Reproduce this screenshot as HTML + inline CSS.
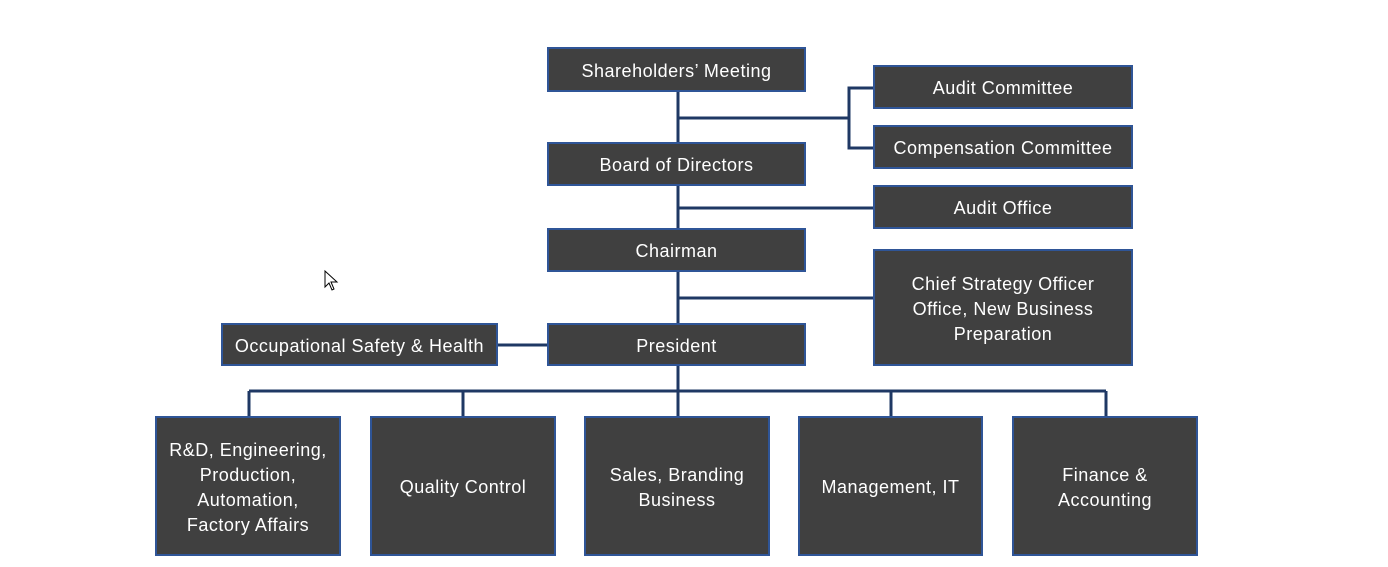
<!DOCTYPE html>
<html><head><meta charset="utf-8"><style>
body{margin:0;width:1388px;height:567px;background:#fff;position:relative;overflow:hidden;font-family:"Liberation Sans",sans-serif}
.b{position:absolute;box-sizing:border-box;background:#404040;border:2px solid #2f5597;color:#fff;font-size:18px;letter-spacing:0.5px;display:flex;align-items:center;justify-content:center;text-align:center;line-height:25px;padding-top:3px}
svg{position:absolute;left:0;top:0}
</style></head><body>
<svg width="1388" height="567">
<g stroke="#1f3864" stroke-width="3" fill="none">
<line x1="678" y1="92" x2="678" y2="323"/>
<line x1="678" y1="118" x2="849" y2="118"/>
<polyline points="873,88 849,88 849,148 873,148"/>
<line x1="678" y1="208" x2="873" y2="208"/>
<line x1="678" y1="298" x2="873" y2="298"/>
<line x1="498" y1="345" x2="547" y2="345"/>
<line x1="678" y1="366" x2="678" y2="416"/>
<line x1="249" y1="391" x2="1106" y2="391"/>
<line x1="249" y1="391" x2="249" y2="416"/>
<line x1="463" y1="391" x2="463" y2="416"/>
<line x1="891" y1="391" x2="891" y2="416"/>
<line x1="1106" y1="391" x2="1106" y2="416"/>
</g>
<path d="M325,271 L325,287 L329,283 L332,290 L334,289 L331,282 L337,282 Z" fill="#fff" stroke="#000" stroke-width="1"/>
</svg>
<div class="b" style="left:547px;top:47px;width:259px;height:45px">Shareholders’ Meeting</div>
<div class="b" style="left:873px;top:65px;width:260px;height:44px">Audit Committee</div>
<div class="b" style="left:873px;top:125px;width:260px;height:44px">Compensation Committee</div>
<div class="b" style="left:547px;top:142px;width:259px;height:44px">Board of Directors</div>
<div class="b" style="left:873px;top:185px;width:260px;height:44px">Audit Office</div>
<div class="b" style="left:547px;top:228px;width:259px;height:44px">Chairman</div>
<div class="b" style="left:873px;top:249px;width:260px;height:117px">Chief Strategy Officer<br>Office, New Business<br>Preparation</div>
<div class="b" style="left:221px;top:323px;width:277px;height:43px">Occupational Safety &amp; Health</div>
<div class="b" style="left:547px;top:323px;width:259px;height:43px">President</div>
<div class="b" style="left:155px;top:416px;width:186px;height:140px">R&amp;D, Engineering,<br>Production,<br>Automation,<br>Factory Affairs</div>
<div class="b" style="left:370px;top:416px;width:186px;height:140px">Quality Control</div>
<div class="b" style="left:584px;top:416px;width:186px;height:140px">Sales, Branding<br>Business</div>
<div class="b" style="left:798px;top:416px;width:185px;height:140px">Management, IT</div>
<div class="b" style="left:1012px;top:416px;width:186px;height:140px">Finance &amp;<br>Accounting</div>
</body></html>
